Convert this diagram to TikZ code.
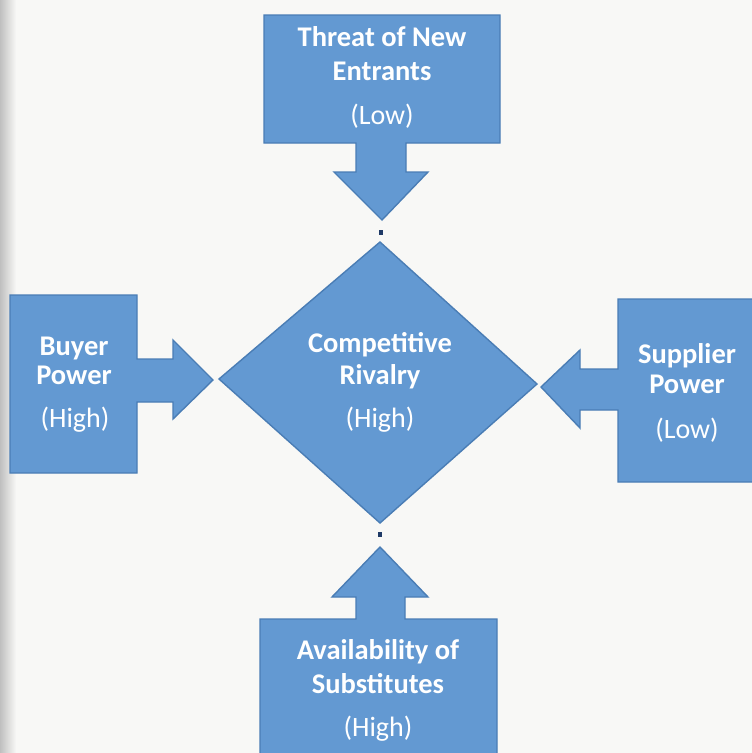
\documentclass[tikz,border=0pt]{standalone}
\usepackage{fontspec}
\setmainfont{Carlito}
\definecolor{forcefill}{HTML}{6399D2}
\definecolor{forceline}{HTML}{4A7DB5}
\definecolor{pin}{HTML}{1F3A66}
\definecolor{paper}{HTML}{F8F8F6}
\tikzset{
  force/.style={fill=forcefill, draw=forceline, line width=1.4pt, line join=miter},
  title/.style={text=white, font=\bfseries\fontsize{28.5}{30}\selectfont, anchor=base, inner sep=0pt},
  level/.style={text=white, font=\fontsize{28}{30}\selectfont, anchor=center, inner sep=0pt},
  pinmark/.style={fill=pin, draw=none, minimum width=3.5pt, minimum height=5pt, inner sep=0pt}
}
\begin{document}
\begin{tikzpicture}[x=1pt,y=-1pt]
  % page
  \fill[paper] (0,0) rectangle (752,753);
  \useasboundingbox (0,0) rectangle (752,753);
  \shade[left color=black!25, right color=paper] (0,0) rectangle (16,753);

  % threat of new entrants: box with downward arrow
  \path[force] (264,15) -- (500,15) -- (500,143) -- (406,143) -- (406,172) -- (428,172)
    -- (382,220) -- (334,172) -- (356,172) -- (356,143) -- (264,143) -- cycle;
  % buyer power: box with arrow to the right
  \path[force] (10,295) -- (137,295) -- (137,359) -- (173,359) -- (173,340) -- (213,380)
    -- (173,419) -- (173,402) -- (137,402) -- (137,473) -- (10,473) -- cycle;
  % supplier power: box with arrow to the left
  \path[force] (618,299) -- (762,299) -- (762,482) -- (618,482) -- (618,410) -- (580,410)
    -- (580,428) -- (541,387) -- (580,350) -- (580,369) -- (618,369) -- cycle;
  % availability of substitutes: box with upward arrow
  \path[force] (260,619) -- (356,619) -- (356,597) -- (332,597) -- (380,547) -- (428,597)
    -- (405,597) -- (405,619) -- (497,619) -- (497,765) -- (260,765) -- cycle;
  % competitive rivalry: diamond
  \path[force] (380,242) -- (537,384) -- (380,523) -- (219,379) -- cycle;

  % small marks between arrows and the diamond
  \node[pinmark] (pinTop) at (381,232) {};
  \node[pinmark] (pinBottom) at (380,534) {};

  % labels
  \node[title] (newA) at (382,46) {Threat of New};
  \node[title] (newB) at (382,80) {Entrants};
  \node[level] (newC) at (382,116) {(Low)};

  \node[title] (buyA) at (74,355) {Buyer};
  \node[title] (buyB) at (74,384) {Power};
  \node[level] (buyC) at (75,420) {(High)};

  \node[title] (supA) at (687,363) {Supplier};
  \node[title] (supB) at (687,393) {Power};
  \node[level] (supC) at (687,430) {(Low)};

  \node[title] (rivA) at (380,352) {Competitive};
  \node[title] (rivB) at (380,384) {Rivalry};
  \node[level] (rivC) at (380,420) {(High)};

  \node[title] (subA) at (378,659) {Availability of};
  \node[title] (subB) at (378,693) {Substitutes};
  \node[level] (subC) at (378,729) {(High)};
\end{tikzpicture}
\end{document}
